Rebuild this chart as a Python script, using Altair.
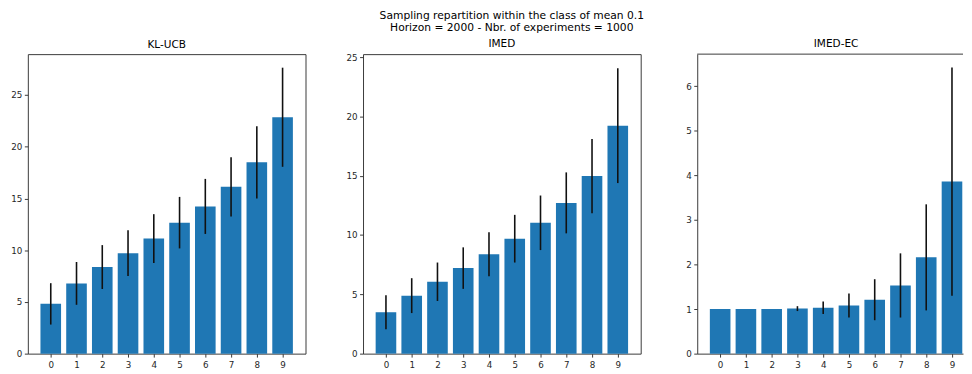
import altair as alt
import pandas as pd

arms = list(range(10))

kl_mean = [4.81, 6.79, 8.37, 9.71, 11.12, 12.66, 14.23, 16.12, 18.49, 22.85]
kl_std = [2.00, 2.07, 2.12, 2.21, 2.36, 2.49, 2.66, 2.87, 3.50, 4.79]

imed_mean = [3.49, 4.89, 6.06, 7.21, 8.38, 9.69, 11.03, 12.71, 14.97, 19.22]
imed_std = [1.43, 1.47, 1.62, 1.75, 1.86, 2.01, 2.30, 2.57, 3.13, 4.84]

ec_mean = [1.0, 1.0, 1.0, 1.01, 1.03, 1.08, 1.21, 1.53, 2.16, 3.86]
ec_std = [0.0, 0.0, 0.0, 0.055, 0.14, 0.27, 0.46, 0.72, 1.19, 2.56]

titles = ["KL-UCB", "IMED", "IMED-EC"]
suptitle = ["Sampling repartition within the class of mean 0.1",
            "Horizon = 2000 - Nbr. of experiments = 1000"]

FONT = "DejaVu Sans"
SPINE = "#3a3a3a"
PX_PER_UNIT = 280 / 10.78


def panel(title, mean, std, ymax, yticks, width, title_dx=0, open_right=False):
    df = pd.DataFrame({"arm": arms, "mean": mean, "std": std})
    base = alt.Chart(df).transform_calculate(
        x0="datum.arm - 0.4",
        x1="datum.arm + 0.4",
        lo="datum.mean - datum.std",
        hi="datum.mean + datum.std",
    )
    xmax = -0.89 + width / PX_PER_UNIT
    xs = alt.Scale(domain=[-0.89, xmax], nice=False, zero=False)
    ys = alt.Scale(domain=[0, ymax], nice=False)
    xaxis = alt.Axis(values=arms, grid=False, tickSize=3.5, labelPadding=3.5,
                     labelFontSize=8.8, labelFont=FONT, labelColor="#262626",
                     tickColor=SPINE, labelAngle=0, domain=open_right,
                     domainColor=SPINE, title=None, format="d",
                     labelOverlap=False, labelFlush=False)
    yaxis = alt.Axis(values=yticks, grid=False, tickSize=3.5, labelPadding=2.5,
                     labelFontSize=8.8, labelFont=FONT, labelColor="#262626",
                     tickColor=SPINE, domain=open_right, domainColor=SPINE,
                     title=None, minExtent=19, maxExtent=19, format="d",
                     labelOverlap=False, labelFlush=False)
    bars = base.mark_bar(color="#1f77b4").encode(
        x=alt.X("x0:Q", scale=xs, axis=xaxis),
        x2="x1:Q",
        y=alt.Y("mean:Q", scale=ys, axis=yaxis),
        y2=alt.datum(0),
    )
    err = base.mark_rule(color="#111111", strokeWidth=1.6).encode(
        x=alt.X("arm:Q", scale=xs, axis=xaxis),
        y=alt.Y("lo:Q", scale=ys, axis=yaxis),
        y2="hi:Q",
    )
    layers = [bars, err]
    props = dict(
        width=width, height=302,
        title=alt.TitleParams(title, fontSize=10.6, font=FONT, fontWeight="normal",
                              color="black", offset=4, anchor="middle", dx=title_dx),
    )
    if open_right:
        top = alt.Chart(pd.DataFrame({"k": [0]})).mark_rule(
            color=SPINE, strokeWidth=1).encode(
            x=alt.value(0), x2=alt.value(width), y=alt.value(0))
        layers.append(top)
        props["view"] = alt.ViewBackground(strokeOpacity=0)
    return alt.layer(*layers).properties(**props)


p1 = panel(titles[0], kl_mean, kl_std, 28.95, [0, 5, 10, 15, 20, 25], 280)
p2 = panel(titles[1], imed_mean, imed_std, 25.25, [0, 5, 10, 15, 20, 25], 280)
p3 = panel(titles[2], ec_mean, ec_std, 6.72, [0, 1, 2, 3, 4, 5, 6], 268,
           title_dx=6, open_right=True)

chart = alt.hconcat(p1, p2, p3, spacing=37).properties(
    title=alt.TitleParams(suptitle, anchor="middle", fontSize=10.8, font=FONT,
                          fontWeight="normal", color="black", lineHeight=13,
                          offset=5, dx=26),
    padding={"left": 0, "top": 0, "right": 0, "bottom": 0},
).configure_view(stroke=SPINE, strokeWidth=1)

chart.save("out.html", embed_options={"renderer": "svg", "actions": False})
